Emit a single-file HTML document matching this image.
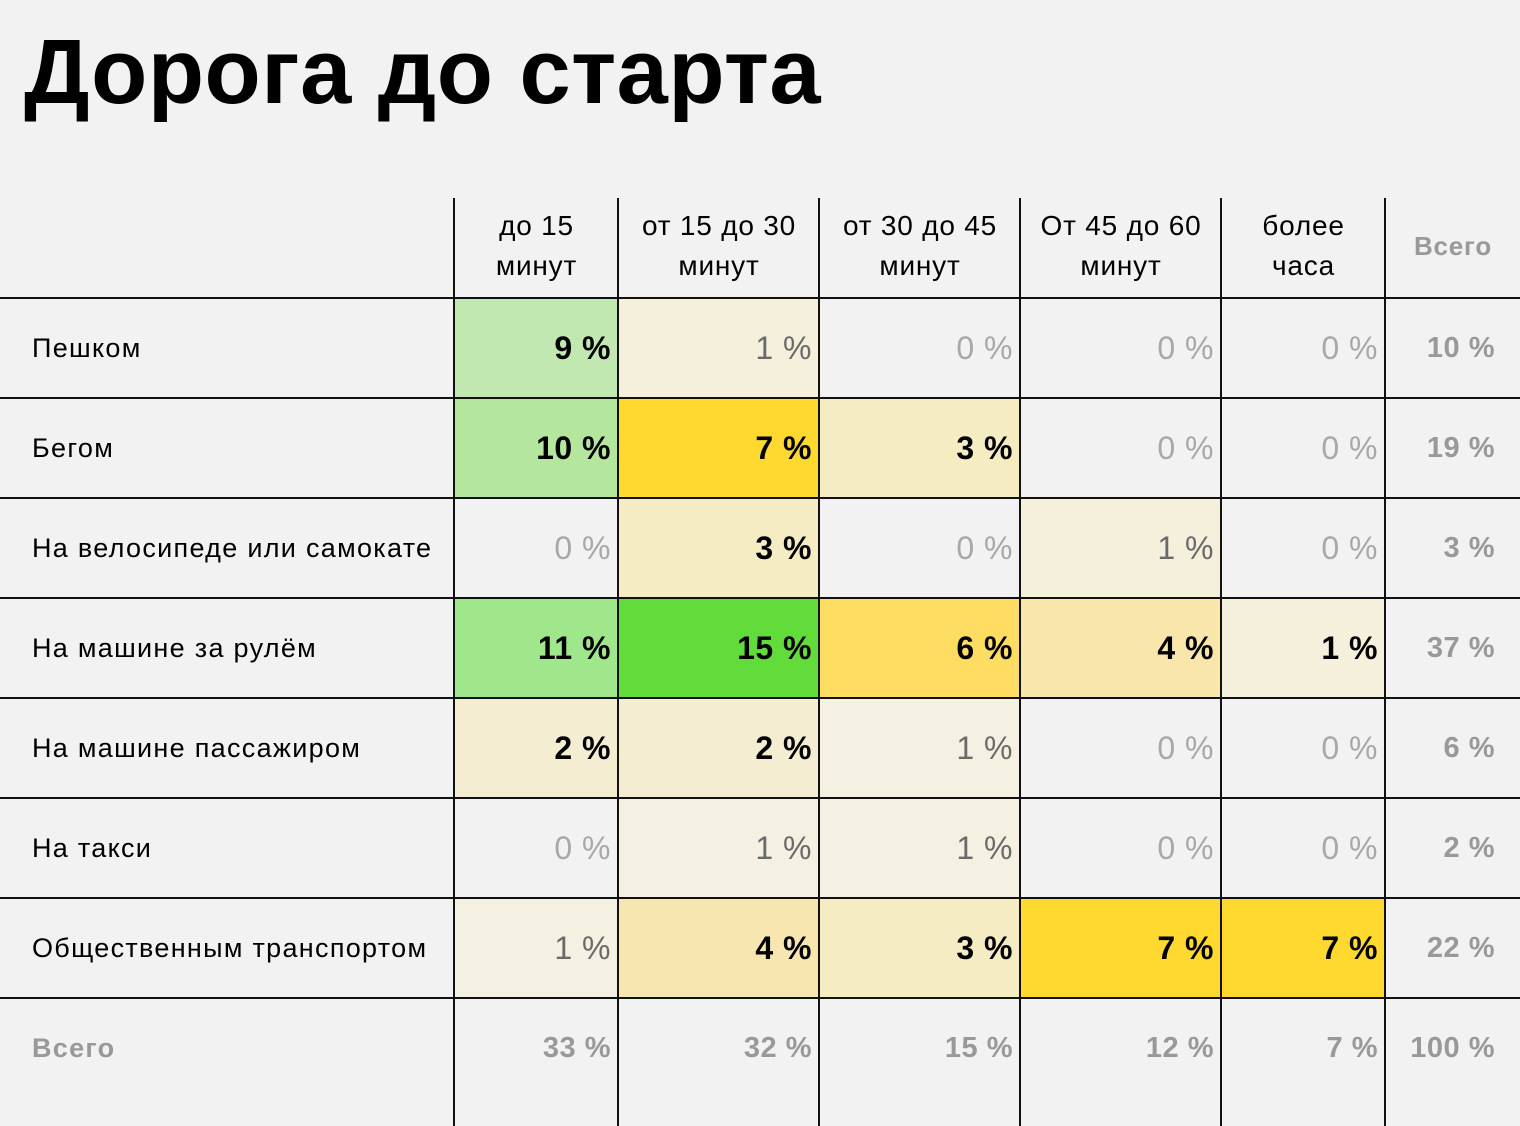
<!DOCTYPE html>
<html><head><meta charset="utf-8"><style>
body{margin:0;width:1520px;height:1126px;background:#f2f2f2;overflow:hidden;font-family:"Liberation Sans","Noto Sans CJK SC",sans-serif;position:relative}
.t{position:absolute;left:24px;top:22px;font-size:92px;font-weight:bold;letter-spacing:0.5px;color:#000;line-height:100px}
.c{position:absolute;box-sizing:border-box;height:100px;line-height:100px;text-align:right;padding-right:8px;font-size:32px;font-weight:bold;letter-spacing:0.5px}
.d{color:#000}.g{color:#a8a8a8;font-weight:normal}.m{color:#6a6a6a;font-weight:normal}
.tot{color:#999;font-weight:bold;font-size:29px}
.lab{position:absolute;left:32px;height:100px;line-height:100px;font-size:27px;letter-spacing:1.3px;color:#000}
.h{position:absolute;top:206px;height:80px;text-align:center;font-size:28px;letter-spacing:0.8px;line-height:40px;color:#000}
.vl{position:absolute;top:198px;width:2px;height:928px;background:#111}
.hl{position:absolute;left:0;width:1520px;height:2px;background:#111}
</style></head><body>
<div class="t">Дорога до старта</div>
<div class="h" style="left:455px;width:163px">до 15<br>минут</div>
<div class="h" style="left:619px;width:200px">от 15 до 30<br>минут</div>
<div class="h" style="left:820px;width:200px">от 30 до 45<br>минут</div>
<div class="h" style="left:1021px;width:200px">От 45 до 60<br>минут</div>
<div class="h" style="left:1222px;width:163px">более<br>часа</div>
<div class="h" style="left:1386px;width:134px;line-height:80px;color:#999;font-weight:bold;font-size:26px">Всего</div>
<div id="g"></div>
<script>
var xs=[455,619,820,1021,1222,1386,1520];
var rows=[
["Пешком",[["9","#c1e8b0","d"],["1","#f5f0dc","m"],["0","","g"],["0","","g"],["0","","g"]],"10"],
["Бегом",[["10","#b4e69e","d"],["7","#ffd92f","d"],["3","#f6ecc2","d"],["0","","g"],["0","","g"]],"19"],
["На велосипеде или самокате",[["0","","g"],["3","#f6ecc4","d"],["0","","g"],["1","#f5f0dc","m"],["0","","g"]],"3"],
["На машине за рулём",[["11","#a0e68a","d"],["15","#62dc3a","d"],["6","#ffdd62","d"],["4","#f8e6aa","d"],["1","#f5f0dc","d"]],"37"],
["На машине пассажиром",[["2","#f5edd2","d"],["2","#f5edd2","d"],["1","#f5f1e2","m"],["0","","g"],["0","","g"]],"6"],
["На такси",[["0","","g"],["1","#f5f1e2","m"],["1","#f5f1e2","m"],["0","","g"],["0","","g"]],"2"],
["Общественным транспортом",[["1","#f5f1e2","m"],["4","#f8e6b0","d"],["3","#f6ecc4","d"],["7","#ffd92f","d"],["7","#ffd92f","d"]],"22"]];
var h="";
rows.forEach(function(r,i){var y=298+i*100;
h+='<div class="lab" style="top:'+y+'px">'+r[0]+'</div>';
r[1].forEach(function(c,j){h+='<div class="c '+c[2]+'" style="left:'+xs[j]+'px;width:'+(xs[j+1]-xs[j])+'px;top:'+y+'px;'+(c[1]?'background:'+c[1]:'')+'">'+c[0]+' %</div>';});
h+='<div class="c tot" style="left:1386px;width:134px;padding-right:25px;top:'+y+'px">'+r[2]+' %</div>';
});
var tt=["33","32","15","12","7"];
h+='<div class="lab" style="top:998px;color:#999;font-weight:bold">Всего</div>';
tt.forEach(function(v,j){h+='<div class="c tot" style="left:'+xs[j]+'px;width:'+(xs[j+1]-xs[j])+'px;top:998px">'+v+' %</div>';});
h+='<div class="c tot" style="left:1386px;width:134px;padding-right:25px;top:998px">100 %</div>';
[454,618,819,1020,1221,1385].forEach(function(x){h+='<div class="vl" style="left:'+(x-1)+'px"></div>';});
[297,397,497,597,697,797,897,997].forEach(function(y){h+='<div class="hl" style="top:'+y+'px"></div>';});
document.getElementById("g").innerHTML=h;
</script>
</body></html>
